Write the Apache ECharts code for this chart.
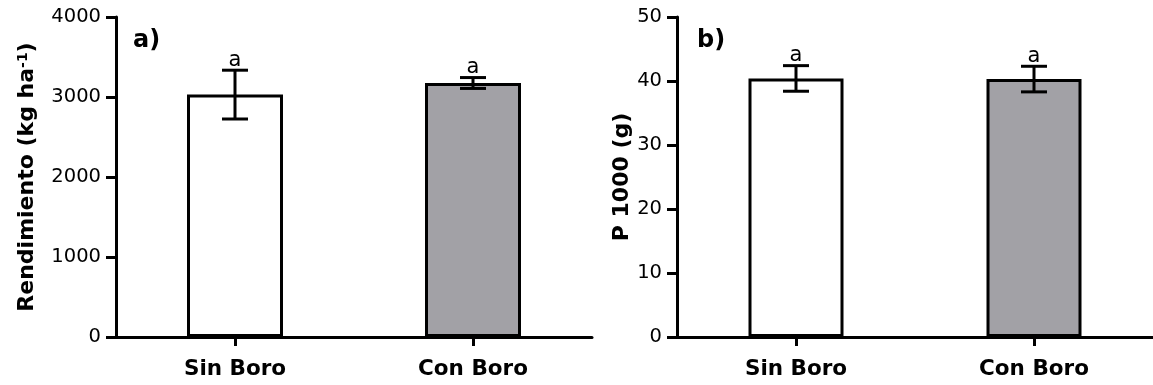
<!DOCTYPE html>
<html><head><meta charset="utf-8">
<script src="https://cdn.jsdelivr.net/npm/echarts@6/dist/echarts.min.js"></script>
<style>html,body{margin:0;padding:0;background:#fff}#c{width:1153px;height:385px}</style>
</head><body><div id="c"></div>
<script>
// ---- data ----
const categories = ['Sin Boro', 'Con Boro'];
const yieldMean = [3030, 3175];
const yieldErr = [305, 68];
const p1000Mean = [40.4, 40.3];
const p1000Err = [2.0, 2.0];
const yieldLetters = ['a', 'a'];
const p1000Letters = ['a', 'a'];
const panelLabels = ['a)', 'b)'];
const yieldAxisName = 'Rendimiento (kg ha{sup|-1})';
const p1000AxisName = 'P 1000 (g)';

// ---- style ----
const FONT = 'DejaVu Sans';
const barColors = ['#ffffff', '#a2a1a6'];

function makeErr(letters) {
  return function (params, api) {
    const x = api.value(0), m = api.value(1), e = api.value(2);
    const top = api.coord([x, m + e]);
    const bot = api.coord([x, m - e]);
    const half = 13;
    const ls = { stroke: '#000', lineWidth: 3 };
    return {
      type: 'group',
      children: [
        { type: 'line', shape: { x1: top[0], y1: top[1], x2: bot[0], y2: bot[1] }, style: ls },
        { type: 'line', shape: { x1: top[0] - half, y1: top[1], x2: top[0] + half, y2: top[1] }, style: ls },
        { type: 'line', shape: { x1: bot[0] - half, y1: bot[1], x2: bot[0] + half, y2: bot[1] }, style: ls },
        { type: 'text', x: top[0], y: top[1] + 0.5,
          style: { text: letters[params.dataIndex], align: 'center', verticalAlign: 'bottom',
                   fontSize: 21, fontFamily: FONT, fill: '#000' } }
      ]
    };
  };
}

function yAxis(gridIndex, max, interval, name, nameGap) {
  return {
    type: 'value', gridIndex, min: 0, max, interval,
    name, nameLocation: 'middle', nameGap,
    nameTextStyle: {
      fontSize: 22, fontWeight: 'bold', fontFamily: FONT, color: '#000',
      rich: { sup: { fontSize: 14, fontWeight: 'bold', fontFamily: FONT, color: '#000', verticalAlign: 'top', lineHeight: 14 } }
    },
    splitLine: { show: false },
    axisLine: { show: true, lineStyle: { color: '#000', width: 3 } },
    axisTick: { show: true, length: 10, lineStyle: { color: '#000', width: 3 } },
    axisLabel: { fontSize: 19.5, fontFamily: FONT, color: '#000', margin: 15, formatter: v => String(v) }
  };
}

function xAxis(gridIndex) {
  return {
    type: 'category', gridIndex, data: categories,
    axisLine: { show: true, lineStyle: { color: '#000', width: 3 } },
    axisTick: { show: true, alignWithLabel: true, length: 9, lineStyle: { color: '#000', width: 3 } },
    axisLabel: { fontSize: 21.5, fontWeight: 'bold', fontFamily: FONT, color: '#000', margin: 21 }
  };
}

const chart = echarts.init(document.getElementById('c'), null, { renderer: 'canvas' });
chart.setOption({
  animation: false,
  backgroundColor: '#fff',
  title: [
    { text: panelLabels[0], left: 128, top: 24, textStyle: { fontSize: 24, fontWeight: 'bold', fontFamily: FONT, color: '#000' } },
    { text: panelLabels[1], left: 692, top: 24, textStyle: { fontSize: 24, fontWeight: 'bold', fontFamily: FONT, color: '#000' } }
  ],
  grid: [
    { left: 116, top: 17, width: 476, height: 320 },
    { left: 677, top: 17, width: 479, height: 320 }
  ],
  xAxis: [xAxis(0), xAxis(1)],
  yAxis: [
    yAxis(0, 4000, 1000, yieldAxisName, 78),
    yAxis(1, 50, 10, p1000AxisName, 43)
  ],
  series: [
    {
      type: 'bar', xAxisIndex: 0, yAxisIndex: 0, barWidth: 96,
      data: yieldMean.map((v, i) => ({ value: v, itemStyle: { color: barColors[i] } })),
      itemStyle: { borderColor: '#000', borderWidth: 3 }
    },
    {
      type: 'custom', xAxisIndex: 0, yAxisIndex: 0, z: 5, clip: false,
      renderItem: makeErr(yieldLetters),
      encode: { x: 0, y: 1 },
      data: yieldMean.map((v, i) => [i, v, yieldErr[i]])
    },
    {
      type: 'bar', xAxisIndex: 1, yAxisIndex: 1, barWidth: 95,
      data: p1000Mean.map((v, i) => ({ value: v, itemStyle: { color: barColors[i] } })),
      itemStyle: { borderColor: '#000', borderWidth: 3 }
    },
    {
      type: 'custom', xAxisIndex: 1, yAxisIndex: 1, z: 5, clip: false,
      renderItem: makeErr(p1000Letters),
      encode: { x: 0, y: 1 },
      data: p1000Mean.map((v, i) => [i, v, p1000Err[i]])
    }
  ]
});
</script>
</body></html>
